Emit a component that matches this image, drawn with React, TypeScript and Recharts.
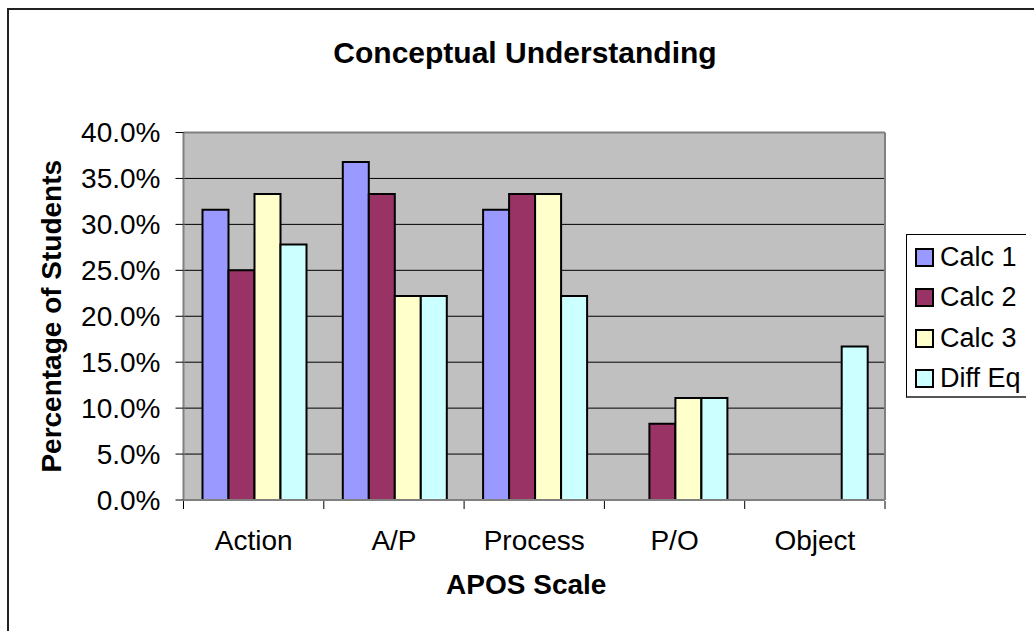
import React from 'react';
import {
  BarChart,
  Bar,
  XAxis,
  YAxis,
  CartesianGrid,
  Legend,
} from 'recharts';

const categories = ['Action', 'A/P', 'Process', 'P/O', 'Object'];
const calc1 = [31.6, 36.8, 31.6, 0, 0];
const calc2 = [25.0, 33.3, 33.3, 8.3, 0];
const calc3 = [33.3, 22.2, 33.3, 11.1, 0];
const diffEq = [27.8, 22.2, 22.2, 11.1, 16.7];
const yTicks = [0, 5, 10, 15, 20, 25, 30, 35, 40];
const edgeTicks = [0, 1, 2, 3, 4, 5];

const series = [
  { key: 'calc1', name: 'Calc 1', fill: '#9999FF' },
  { key: 'calc2', name: 'Calc 2', fill: '#993366' },
  { key: 'calc3', name: 'Calc 3', fill: '#FFFFCC' },
  { key: 'diffEq', name: 'Diff Eq', fill: '#CCFFFF' },
];

const data = categories.map((cat, i) => ({
  cat,
  edge: i,
  calc1: calc1[i],
  calc2: calc2[i],
  calc3: calc3[i],
  diffEq: diffEq[i],
}));

const FONT = '"Liberation Sans", Arial, sans-serif';
const W = 1026;
const H = 615;

function LegendBox() {
  return (
    <div
      style={{
        position: 'absolute',
        left: 0,
        top: 0,
        borderTop: '1px solid #000',
        borderLeft: '1px solid #000',
        borderBottom: '2px solid #555',
        background: '#fff',
        width: 160,
        height: 164,
        boxSizing: 'border-box',
        paddingTop: 2,
        fontFamily: FONT,
      }}
    >
      {series.map((s) => (
        <div
          key={s.key}
          style={{ display: 'flex', alignItems: 'center', height: 40.5, paddingLeft: 8 }}
        >
          <span
            style={{
              width: 19,
              height: 19,
              flex: 'none',
              boxSizing: 'border-box',
              border: '2px solid #000',
              background: s.fill,
              marginRight: 6,
            }}
          />
          <span style={{ fontSize: 27, color: '#000', whiteSpace: 'nowrap' }}>{s.name}</span>
        </div>
      ))}
    </div>
  );
}

export default function App() {
  return (
    <div style={{ position: 'relative', width: W, height: H, fontFamily: FONT }}>
      <style>{'html, body { overflow: hidden; }'}</style>
      <div
        style={{
          position: 'fixed',
          left: 7,
          top: 8,
          width: 2000,
          height: 2000,
          borderLeft: '2px solid #222',
          borderTop: '2px solid #222',
          pointerEvents: 'none',
          zIndex: 5,
        }}
      />
      <div
        style={{
          position: 'absolute',
          left: 0,
          top: 28,
          width: 1034,
          textAlign: 'center',
          fontSize: 30,
          lineHeight: '34px',
          fontWeight: 'bold',
          color: '#000',
        }}
      >
        Conceptual Understanding
      </div>
      <BarChart
        width={W}
        height={H}
        data={data}
        margin={{ top: 123.5, right: 148, left: 75.5, bottom: 62 }}
        barCategoryGap={19}
        barGap={0}
        style={{ overflow: 'visible' }}
      >
        <CartesianGrid vertical={false} stroke="#000" fill="#C0C0C0" />
        <XAxis
          dataKey="cat"
          height={1}
          tickLine={false}
          tickSize={0}
          tickMargin={30}
          axisLine={{ stroke: '#808080', strokeWidth: 2 }}
          tick={{ fill: '#000', fontSize: 28, fontFamily: FONT }}
          label={(props: any) => {
            const vb = props.viewBox;
            return (
              <text
                x={vb.x + vb.width / 2 - 8}
                y={vb.y + 84}
                textAnchor="middle"
                dominantBaseline="central"
                fontSize={28}
                fontWeight="bold"
                fontFamily={FONT}
                fill="#000"
              >
                APOS Scale
              </text>
            );
          }}
        />
        <XAxis
          xAxisId="edges"
          dataKey="edge"
          type="number"
          domain={[0, 5]}
          ticks={edgeTicks}
          allowDataOverflow
          interval={0}
          height={60}
          tickFormatter={() => ''}
          tickSize={8}
          tickLine={{ stroke: '#000' }}
          axisLine={false}
        />
        <XAxis
          xAxisId="top"
          orientation="top"
          dataKey="cat"
          height={1}
          tick={false}
          tickLine={false}
          axisLine={{ stroke: '#808080', strokeWidth: 2 }}
        />
        <YAxis
          domain={[0, 40]}
          ticks={yTicks}
          width={100}
          tickSize={8}
          tickMargin={15}
          tickLine={{ stroke: '#000' }}
          axisLine={{ stroke: '#808080', strokeWidth: 2 }}
          tickFormatter={(v: number) => v.toFixed(1) + '%'}
          tick={{ fill: '#000', fontSize: 28, fontFamily: FONT }}
          label={(props: any) => {
            const vb = props.viewBox;
            const cx = 43;
            const cy = vb.y + vb.height / 2;
            return (
              <text
                x={cx}
                y={cy}
                transform={`rotate(-90, ${cx}, ${cy})`}
                textAnchor="middle"
                dominantBaseline="central"
                fontSize={28}
                fontWeight="bold"
                fontFamily={FONT}
                fill="#000"
              >
                Percentage of Students
              </text>
            );
          }}
        />
        <YAxis
          yAxisId="right"
          orientation="right"
          domain={[0, 40]}
          width={1}
          tick={false}
          tickLine={false}
          axisLine={{ stroke: '#808080', strokeWidth: 2 }}
        />
        <Legend
          layout="vertical"
          align="center"
          verticalAlign="middle"
          wrapperStyle={{ left: 898, top: 226, width: 160, height: 164 }}
          content={() => <LegendBox />}
        />
        {series.map((s) => (
          <Bar
            key={s.key}
            dataKey={s.key}
            name={s.name}
            fill={s.fill}
            stroke="#000"
            strokeWidth={2}
            isAnimationActive={false}
          />
        ))}
      </BarChart>
    </div>
  );
}
